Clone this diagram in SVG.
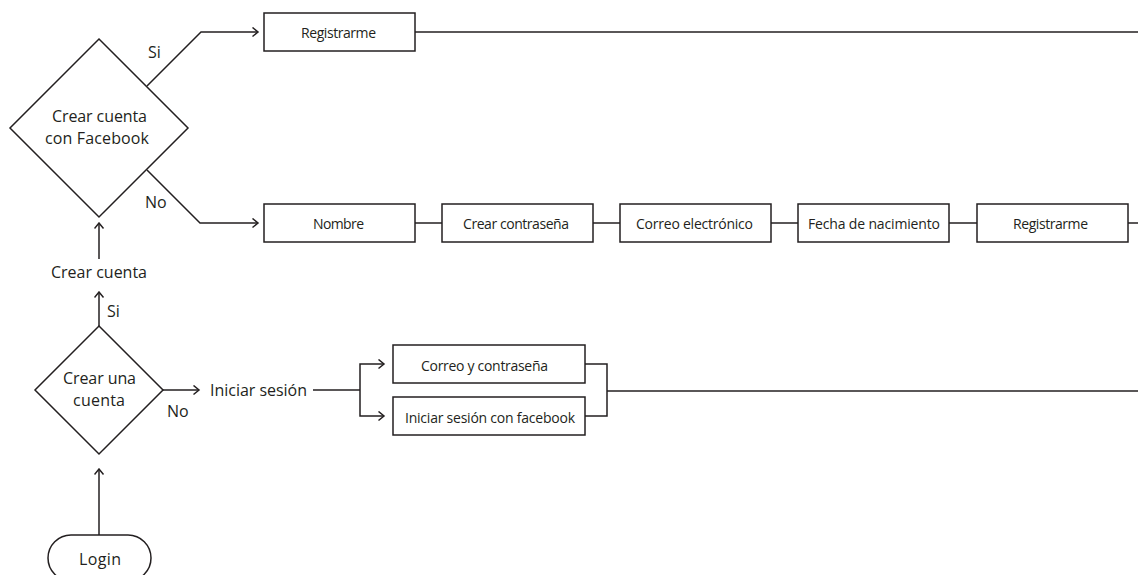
<svg xmlns="http://www.w3.org/2000/svg" width="1138" height="575" viewBox="0 0 1138 575">
  <style>
    .shape { fill: #ffffff; stroke: #231f20; stroke-width: 1.5; }
    .line { fill: none; stroke: #231f20; stroke-width: 1.5; }
    .big { font-family: "Open Sans", "Noto Sans", sans-serif; font-size: 16px; fill: #231f20; }
    .box { font-family: "Open Sans", "Noto Sans", sans-serif; font-size: 14px; fill: #231f20; }
  </style>
  <defs>
    <marker id="arrow" markerWidth="8" markerHeight="12" refX="6.5" refY="5" orient="auto" markerUnits="userSpaceOnUse">
      <path d="M1,0.5 L6.5,5 L1,9.5" fill="none" stroke="#231f20" stroke-width="1.5"/>
    </marker>
  </defs>
  <rect width="1138" height="575" fill="#ffffff"/>

  <g id="connectors">
    <path class="line" d="M147,86 L201,32 H258" marker-end="url(#arrow)"/>
    <path class="line" d="M415,32 H1138"/>
    <path class="line" d="M147,170 L200,223 H258" marker-end="url(#arrow)"/>
    <path class="line" d="M415,223 H442"/>
    <path class="line" d="M593,223 H620"/>
    <path class="line" d="M771,223 H798"/>
    <path class="line" d="M949,223 H977"/>
    <path class="line" d="M1128,223 H1138"/>
    <path class="line" d="M99,259 V223" marker-end="url(#arrow)"/>
    <path class="line" d="M99,326 V292" marker-end="url(#arrow)"/>
    <path class="line" d="M99,535 V469" marker-end="url(#arrow)"/>
    <path class="line" d="M163,390 H199" marker-end="url(#arrow)"/>
    <path class="line" d="M313,390 H360"/>
    <path class="line" d="M360,390 V364 H384" marker-end="url(#arrow)"/>
    <path class="line" d="M360,390 V416 H384" marker-end="url(#arrow)"/>
    <path class="line" d="M585,364 H607 V416 H585"/>
    <path class="line" d="M607,391 H1138"/>
  </g>

  <g id="labels">
    <text class="big" x="148" y="58">Si</text>
    <text class="big" x="145" y="208">No</text>
    <text class="big" x="51" y="278" textLength="96">Crear cuenta</text>
    <text class="big" x="107" y="317">Si</text>
    <text class="big" x="167" y="417">No</text>
    <text class="big" x="210" y="396" textLength="97">Iniciar sesión</text>
  </g>

  <g id="decision-facebook">
    <polygon class="shape" points="99,39 188,128 99,217 10,128"/>
    <text class="big" x="52" y="122" textLength="95">Crear cuenta</text>
    <text class="big" x="45" y="144" textLength="104">con Facebook</text>
  </g>

  <g id="registrarme-fb">
    <rect class="shape" x="264" y="13" width="151" height="38"/>
    <text class="box" x="301" y="37.5" textLength="75">Registrarme</text>
  </g>

  <g id="nombre">
    <rect class="shape" x="264" y="204" width="151" height="38"/>
    <text class="box" x="313" y="229" textLength="51">Nombre</text>
  </g>
  <g id="crear-contrasena">
    <rect class="shape" x="442" y="204" width="151" height="38"/>
    <text class="box" x="463" y="229" textLength="106">Crear contraseña</text>
  </g>
  <g id="correo-electronico">
    <rect class="shape" x="620" y="204" width="151" height="38"/>
    <text class="box" x="636" y="229" textLength="117">Correo electrónico</text>
  </g>
  <g id="fecha-nacimiento">
    <rect class="shape" x="798" y="204" width="151" height="38"/>
    <text class="box" x="808" y="229" textLength="132">Fecha de nacimiento</text>
  </g>
  <g id="registrarme">
    <rect class="shape" x="977" y="204" width="151" height="38"/>
    <text class="box" x="1013" y="229" textLength="75">Registrarme</text>
  </g>

  <g id="decision-cuenta">
    <polygon class="shape" points="99,326 163,390 99,454 35,390"/>
    <text class="big" x="63" y="384" textLength="73">Crear una</text>
    <text class="big" x="73" y="406" textLength="52">cuenta</text>
  </g>

  <g id="correo-contrasena">
    <rect class="shape" x="393" y="345" width="192" height="38"/>
    <text class="box" x="421" y="371" textLength="127">Correo y contraseña</text>
  </g>
  <g id="sesion-facebook">
    <rect class="shape" x="393" y="397" width="192" height="38"/>
    <text class="box" x="405" y="423" textLength="170">Iniciar sesión con facebook</text>
  </g>

  <g id="login">
    <rect class="shape" x="48" y="535" width="103" height="46" rx="23" ry="23"/>
    <text class="big" x="79" y="565" textLength="42">Login</text>
  </g>
</svg>
